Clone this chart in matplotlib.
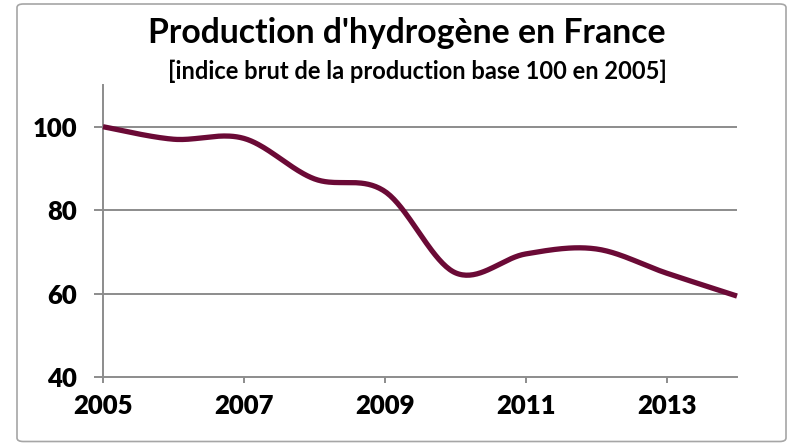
import numpy as np
import matplotlib
matplotlib.use("Agg")
import matplotlib.pyplot as plt
from matplotlib.patches import FancyBboxPatch

years = [2005, 2006, 2007, 2008, 2009, 2010, 2011, 2012, 2013, 2014]
index_values = [100, 97.0, 97.2, 87.5, 84.5, 65.0, 69.5, 70.7, 64.9, 59.4]
x_ticks = [2005, 2007, 2009, 2011, 2013]
y_ticks = [40, 60, 80, 100]
title = "Production d'hydrogène en France"
subtitle = "[indice brut de la production base 100 en 2005]"

plt.rcParams['font.family'] = ['Lato', 'DejaVu Sans']

def smooth(xs, ys, n=40):
    xs = np.asarray(xs, float); ys = np.asarray(ys, float)
    px = np.concatenate([[xs[0]], xs, [xs[-1]]])
    py = np.concatenate([[ys[0]], ys, [ys[-1]]])
    ox, oy = [], []
    for i in range(1, len(px) - 2):
        p0x, p1x, p2x, p3x = px[i-1], px[i], px[i+1], px[i+2]
        p0y, p1y, p2y, p3y = py[i-1], py[i], py[i+1], py[i+2]
        c1x = p1x + (p2x - p0x) / 6; c1y = p1y + (p2y - p0y) / 6
        c2x = p2x - (p3x - p1x) / 6; c2y = p2y - (p3y - p1y) / 6
        t = np.linspace(0, 1, n)
        bx = (1-t)**3*p1x + 3*(1-t)**2*t*c1x + 3*(1-t)*t**2*c2x + t**3*p2x
        by = (1-t)**3*p1y + 3*(1-t)**2*t*c1y + 3*(1-t)*t**2*c2y + t**3*p2y
        ox.extend(bx); oy.extend(by)
    return np.array(ox), np.array(oy)

fig = plt.figure(figsize=(7.89, 4.43), dpi=100)
border = FancyBboxPatch((17/789, 1.5/443), 769/789, 437.5/443,
                        boxstyle="round,pad=0,rounding_size=0.008",
                        transform=fig.transFigure, facecolor='white',
                        edgecolor='#a6a6a6', linewidth=1.2, zorder=-5)
fig.patches.append(border)

ax = fig.add_axes([103/789, 1 - 377/443, (737-103)/789, (377-85)/443])
ax.set_zorder(2)
ax.set_facecolor('none')
sx, sy = smooth(years, index_values)
ax.plot(sx, sy, color='#6b0a36', linewidth=3.8, solid_capstyle='butt', zorder=3, clip_on=False)

ax.set_xlim(2005, 2014)
ax.set_ylim(40, 110)
ax.set_xticks(x_ticks)
ax.set_xticklabels([str(v) for v in x_ticks], fontsize=18.5, fontweight='heavy')
ax.set_yticks(y_ticks)
ax.set_yticklabels([str(v) for v in y_ticks], fontsize=18.5, fontweight='heavy')
for v in y_ticks[1:]:
    ax.axhline(v, color='#8c8c8c', linewidth=1.4, zorder=1)
for s in ['top', 'right']:
    ax.spines[s].set_visible(False)
for s in ['left', 'bottom']:
    ax.spines[s].set_color('#8c8c8c')
    ax.spines[s].set_linewidth(1.4)
ax.tick_params(axis='both', colors='#8c8c8c', width=1.4, labelcolor='black')
ax.tick_params(axis='x', length=4.5, pad=8)
ax.tick_params(axis='y', length=6.5, pad=12)

fig.text(407/789, 1 - 33/443, title, ha='center', va='center', fontsize=24.3, fontweight='bold')
fig.text(417/789, 1 - 71/443, subtitle, ha='center', va='center', fontsize=17, fontweight='bold')

fig.savefig('out.png', dpi=100)
